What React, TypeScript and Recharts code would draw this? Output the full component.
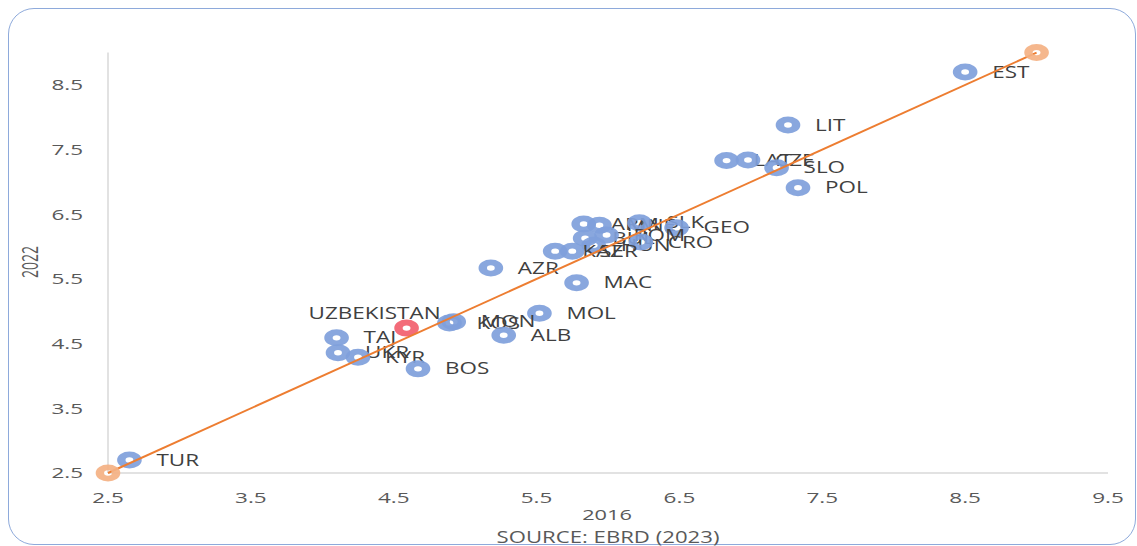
import React from "react";
import { ScatterChart, Scatter, XAxis, YAxis } from "recharts";

const countries = ["EST","LIT","LAT","CZE","SLO","POL","ARM","MNE","SLK","GEO","BUL","ROM","HUN","CRO","KAZ","SER","AZR","MAC","MOL","MON","KOS","ALB","TAJ","UKR","KYR","BOS","TUR"];
const score2016 = [8.50,7.26,6.83,6.98,7.18,7.33,5.83,5.94,6.22,6.48,5.84,5.99,5.90,6.23,5.63,5.75,5.18,5.78,5.52,4.92,4.89,5.27,4.10,4.11,4.25,4.67,2.65];
const score2022 = [8.70,7.88,7.33,7.34,7.22,6.91,6.35,6.33,6.37,6.29,6.13,6.18,6.02,6.07,5.93,5.93,5.67,5.44,4.97,4.84,4.82,4.63,4.59,4.36,4.29,4.11,2.70];

const focusName = ["UZBEKISTAN"];
const focus2016 = [4.59];
const focus2022 = [4.74];

const trend2016 = [2.5, 9];
const trend2022 = [2.5, 9];

const xTicks = [2.5, 3.5, 4.5, 5.5, 6.5, 7.5, 8.5, 9.5];
const yTicks = [2.5, 3.5, 4.5, 5.5, 6.5, 7.5, 8.5];

const mainData = countries.map((name, i) => ({ name, x: score2016[i], y: score2022[i] }));
const focusData = focusName.map((name, i) => ({ name, x: focus2016[i], y: focus2022[i] }));
const trendData = trend2016.map((x, i) => ({ x, y: trend2022[i] }));

const FONT = "'Open Sans', 'DejaVu Sans', sans-serif";
const SX = 1.45;

const Ring = ({ cx, cy, color }: any) => (
  <g transform={`translate(${cx},${cy}) scale(${SX},1)`}>
    <circle r={5.6} fill="none" stroke={color} strokeWidth={5.8} strokeOpacity={0.92} />
  </g>
);

const MainShape = (props: any) => {
  const { cx, cy, payload } = props;
  return (
    <g>
      <Ring cx={cx} cy={cy} color="#7f9fdb" />
      <text
        transform={`translate(${cx + 27},${cy}) scale(${SX},1)`}
        dy="0.36em"
        fontSize={15.5}
        fontFamily={FONT}
        fill="#404040"
      >
        {payload.name}
      </text>
    </g>
  );
};

const FocusShape = (props: any) => {
  const { cx, cy, payload } = props;
  return (
    <g>
      <Ring cx={cx} cy={cy} color="#f2606e" />
      <text
        transform={`translate(${cx - 32},${cy - 15}) scale(${SX},1)`}
        dy="0.36em"
        textAnchor="middle"
        fontSize={15.5}
        fontFamily={FONT}
        fill="#404040"
      >
        {payload.name}
      </text>
    </g>
  );
};

const TrendShape = (props: any) => <Ring cx={props.cx} cy={props.cy} color="#f4b183" />;

const XTick = (props: any) => {
  const { x, y, payload } = props;
  return (
    <text
      transform={`translate(${x},${y + 25}) scale(1.5,1)`}
      dy="0.36em"
      textAnchor="middle"
      fontSize={15}
      fontFamily={FONT}
      fill="#595959"
    >
      {payload.value.toFixed(1)}
    </text>
  );
};

const YTick = (props: any) => {
  const { x, y, payload } = props;
  return (
    <text
      transform={`translate(${x - 25},${y}) scale(1.5,1)`}
      dy="0.36em"
      textAnchor="end"
      fontSize={15}
      fontFamily={FONT}
      fill="#595959"
    >
      {payload.value.toFixed(1)}
    </text>
  );
};

export default function App() {
  return (
    <div style={{ position: "absolute", left: 0, top: 0, width: 1137, height: 546, background: "#fff", overflow: "hidden" }}>
      <div
        style={{
          position: "absolute",
          left: 8,
          top: 8,
          width: 1128,
          height: 537,
          border: "1.5px solid #8eaadb",
          borderRadius: 26,
          boxSizing: "border-box",
        }}
      />
      <div style={{ position: "absolute", left: 0, top: 0 }}>
        <ScatterChart width={1137} height={546} margin={{ top: 52.6, right: 29, bottom: 43, left: 0 }}>
          <XAxis
            type="number"
            dataKey="x"
            domain={[2.5, 9.5]}
            ticks={xTicks}
            tick={XTick}
            tickLine={false}
            tickSize={0}
            tickMargin={0}
            height={30}
            axisLine={{ stroke: "#d9d9d9", strokeWidth: 1.5 }}
          />
          <YAxis
            type="number"
            dataKey="y"
            domain={[2.5, 9]}
            ticks={yTicks}
            tick={YTick}
            tickLine={false}
            tickSize={0}
            tickMargin={0}
            width={108}
            axisLine={{ stroke: "#d9d9d9", strokeWidth: 1.5 }}
          />
          <Scatter data={mainData} shape={MainShape} isAnimationActive={false} />
          <Scatter data={focusData} shape={FocusShape} isAnimationActive={false} />
          <Scatter
            data={trendData}
            shape={TrendShape}
            line={{ stroke: "#ed7d31", strokeWidth: 2 }}
            isAnimationActive={false}
          />
        </ScatterChart>
      </div>
      <svg width={1137} height={546} style={{ position: "absolute", left: 0, top: 0, pointerEvents: "none" }}>
        <text
          transform={`translate(30,262) scale(1.5,1) rotate(-90)`}
          dy="0.36em"
          textAnchor="middle"
          fontSize={14}
          fontFamily={FONT}
          fill="#595959"
        >
          2022
        </text>
        <text
          transform={`translate(607,515) scale(1.45,1)`}
          dy="0.36em"
          textAnchor="middle"
          fontSize={15}
          fontFamily={FONT}
          fill="#595959"
        >
          2016
        </text>
        <text
          transform={`translate(608,537.5) scale(1.43,1)`}
          dy="0.36em"
          textAnchor="middle"
          fontSize={15.5}
          fontFamily={FONT}
          fill="#595959"
        >
          SOURCE: EBRD (2023)
        </text>
      </svg>
    </div>
  );
}
